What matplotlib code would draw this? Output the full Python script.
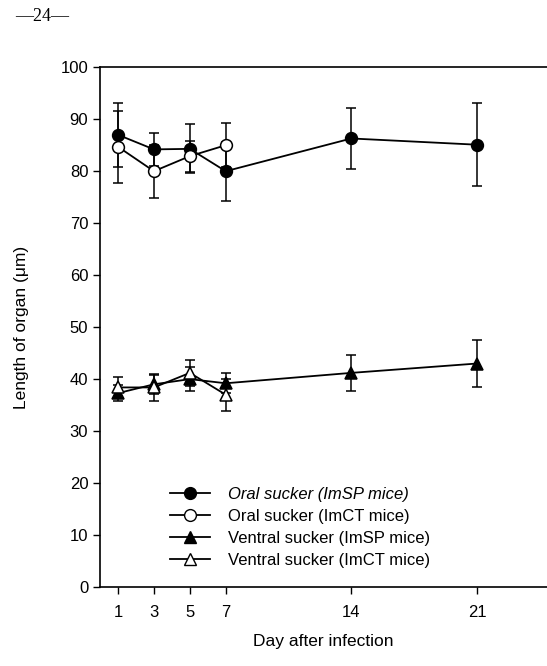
import matplotlib
matplotlib.use("Agg")
import matplotlib.pyplot as plt
from matplotlib.lines import Line2D
import numpy as np

plt.rcParams['font.family'] = ['Liberation Sans', 'DejaVu Sans']

# data
days = [1, 3, 5, 7, 14, 21]
days_ct = [1, 3, 5, 7]

oral_sp = [87.0, 84.2, 84.3, 80.0, 86.3, 85.1]
oral_sp_err = [6.2, 3.2, 4.7, 5.7, 5.8, 8.0]
oral_ct = [84.7, 80.0, 82.9, 85.0]
oral_ct_err = [6.9, 5.1, 3.0, 4.2]

ventral_sp = [37.3, 39.0, 40.0, 39.2, 41.2, 43.0]
ventral_sp_err = [1.5, 1.8, 2.3, 1.9, 3.4, 4.6]
ventral_ct = [38.4, 38.4, 41.2, 37.0]
ventral_ct_err = [2.1, 2.6, 2.5, 3.1]

labels = ["Oral sucker (ImSP mice)", "Oral sucker (ImCT mice)",
          "Ventral sucker (ImSP mice)", "Ventral sucker (ImCT mice)"]

fig = plt.figure(figsize=(5.47, 6.66), dpi=100)
ax = fig.add_axes([0.183, 0.1186, 0.817, 0.7804])

common = dict(color='black', ecolor='black', lw=1.3, elinewidth=1.1,
              capsize=3.5, capthick=1.1, markersize=8.5, markeredgewidth=1.1)

ax.errorbar(days, oral_sp, yerr=oral_sp_err, fmt='-o', mfc='black', zorder=3, **common)
ax.errorbar(days_ct, oral_ct, yerr=oral_ct_err, fmt='-o', mfc='white', zorder=4, **common)
ax.errorbar(days, ventral_sp, yerr=ventral_sp_err, fmt='-^', mfc='black', zorder=3, **common)
ax.errorbar(days_ct, ventral_ct, yerr=ventral_ct_err, fmt='-^', mfc='white', zorder=4, **common)

ax.set_xlim(0, 24.9)
ax.set_ylim(0, 100)
ax.set_xticks(days)
ax.set_yticks(np.arange(0, 101, 10))
ax.tick_params(direction='out', length=5, width=1, labelsize=12, colors='black')
ax.tick_params(axis='x', pad=8)
ax.spines['right'].set_visible(False)
for s in ['left', 'top', 'bottom']:
    ax.spines[s].set_linewidth(1.2)

ax.set_xlabel("Day after infection", fontsize=12.5, labelpad=10)
ax.set_ylabel("Length of organ (\u03bcm)", fontsize=12.5, labelpad=23)

# legend: line + marker only
handles = [
    Line2D([], [], color='black', lw=1.3, marker='o', mfc='black', ms=8.5),
    Line2D([], [], color='black', lw=1.3, marker='o', mfc='white', ms=8.5),
    Line2D([], [], color='black', lw=1.3, marker='^', mfc='black', ms=8.5),
    Line2D([], [], color='black', lw=1.3, marker='^', mfc='white', ms=8.5),
]
leg = ax.legend(handles, labels, loc='lower left', bbox_to_anchor=(0.138, 0.02),
                frameon=False, fontsize=12, handlelength=2.4, handletextpad=1.1,
                labelspacing=0.42, borderpad=0)
leg.get_texts()[0].set_fontstyle('italic')

fig.text(0.027, 0.975, "\u201424\u2014", family=['Liberation Serif', 'DejaVu Serif'],
         fontsize=13, va='center', ha='left')

fig.savefig("out.png", dpi=100)
